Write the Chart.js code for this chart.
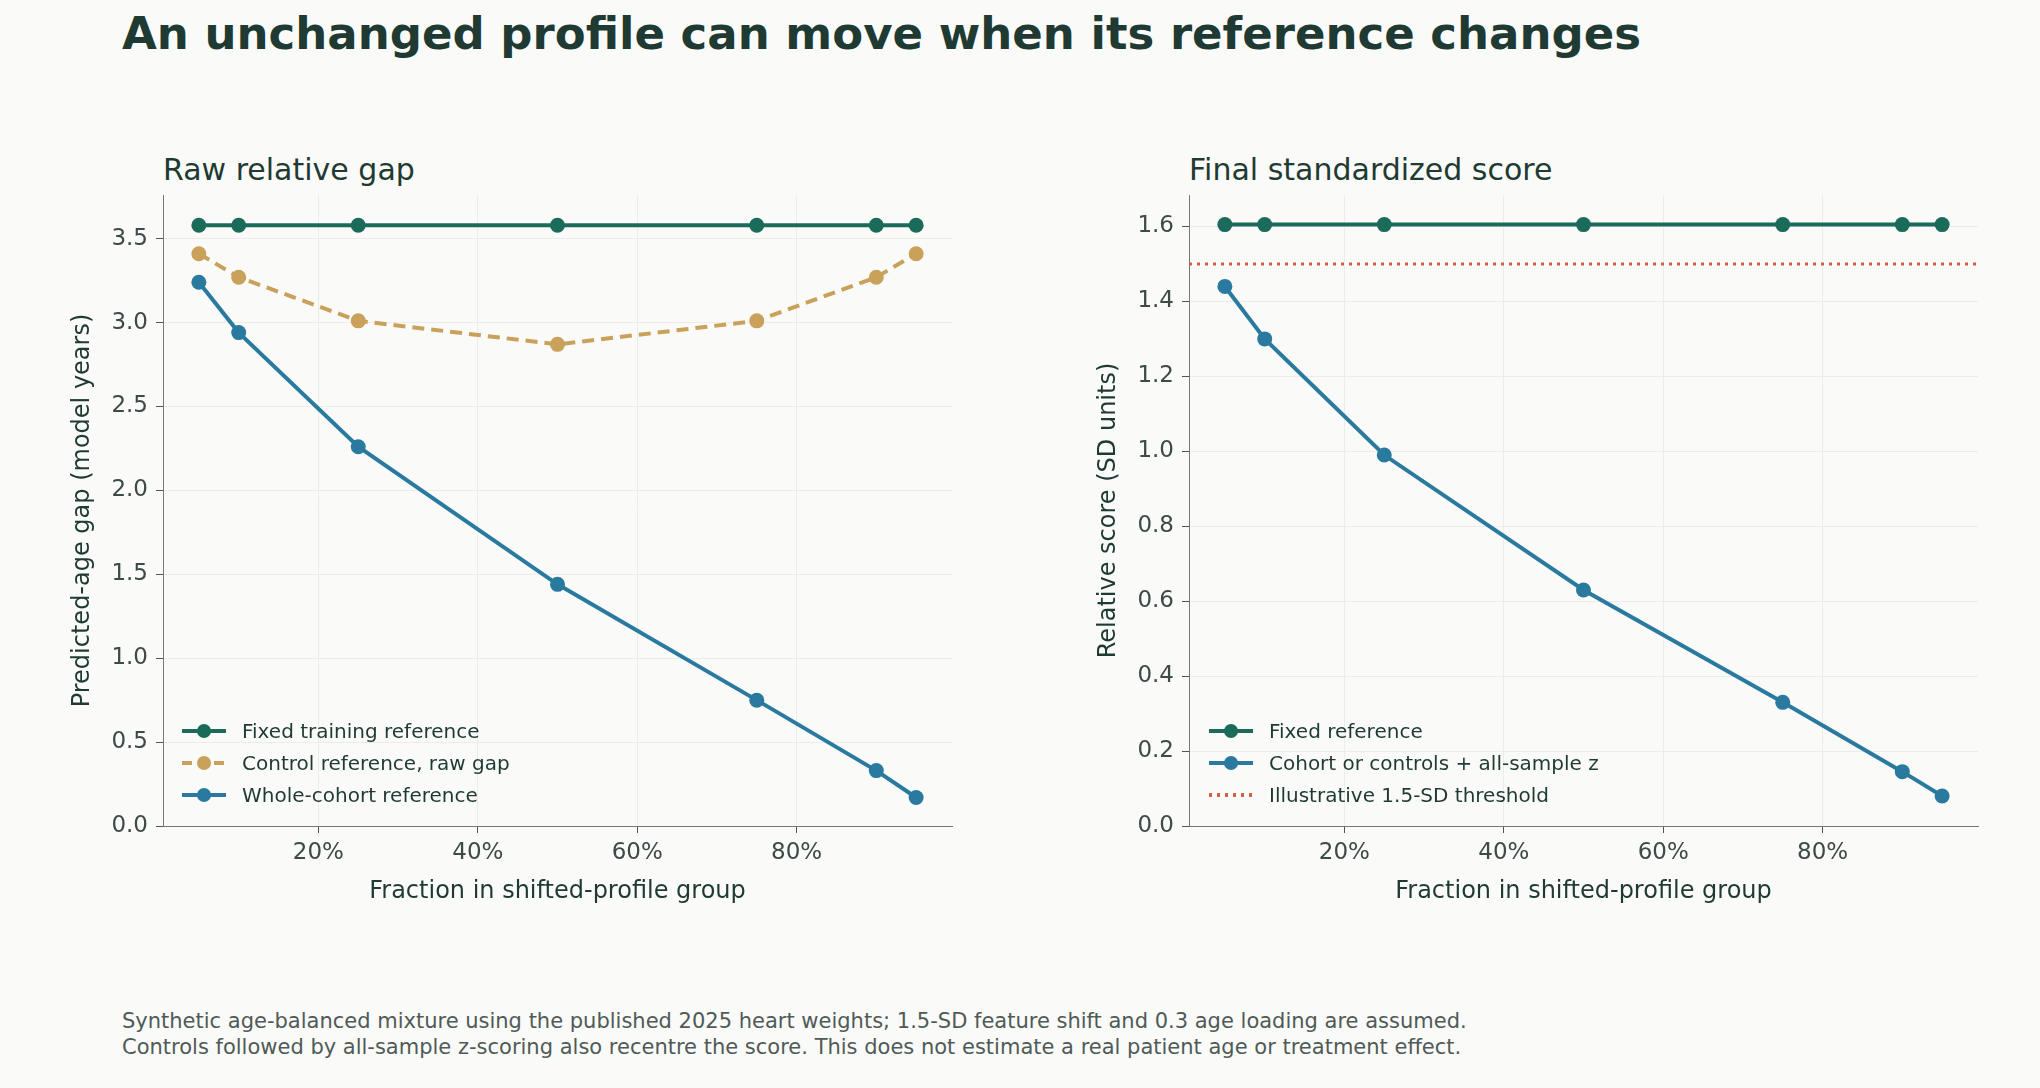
<!DOCTYPE html>
<html><head><meta charset="utf-8">
<script src="https://cdn.jsdelivr.net/npm/chart.js@4"></script>
<style>
body{margin:0;background:#fafaf8;font-family:"DejaVu Sans",sans-serif;width:2040px;height:1088px;position:relative;overflow:hidden;color:#1f3a33}
.box{position:absolute;top:150px;width:980px;height:780px}
.t{position:absolute;white-space:nowrap}
.leg{position:absolute;font-size:20px;color:#1f3a33}
.leg div{height:32px;display:flex;align-items:center}
.leg svg{margin-right:14px}
</style></head><body>
<div class="t" style="left:122px;top:7px;font-size:45px;font-weight:bold;color:#1f3a33">An unchanged profile can move when its reference changes</div>
<div class="t" style="left:163px;top:152px;font-size:30px">Raw relative gap</div>
<div class="t" style="left:1189px;top:152px;font-size:30px">Final standardized score</div>
<div class="box" style="left:0"><canvas id="c1"></canvas></div>
<div class="box" style="left:1026px"><canvas id="c2"></canvas></div>
<div class="leg" id="l1" style="left:180px;top:715px"></div>
<div class="leg" id="l2" style="left:1207px;top:715px"></div>
<div class="t" style="left:122px;top:1008px;font-size:21px;color:#4f5a57;line-height:26px">Synthetic age-balanced mixture using the published 2025 heart weights; 1.5-SD feature shift and 0.3 age loading are assumed.<br>Controls followed by all-sample z-scoring also recentre the score. This does not estimate a real patient age or treatment effect.</div>
<script>
var fractions = [0.05, 0.10, 0.25, 0.50, 0.75, 0.90, 0.95];
var fixedGap = [3.58, 3.58, 3.58, 3.58, 3.58, 3.58, 3.58];
var controlGap = [3.41, 3.27, 3.01, 2.87, 3.01, 3.27, 3.41];
var cohortGap = [3.24, 2.94, 2.26, 1.44, 0.75, 0.33, 0.17];
var fixedScore = [1.605, 1.605, 1.605, 1.605, 1.605, 1.605, 1.605];
var cohortScore = [1.44, 1.30, 0.99, 0.63, 0.33, 0.145, 0.08];
var threshold = 1.5;
var xTicks = [0.2, 0.4, 0.6, 0.8];
var yTicks1 = [0, 0.5, 1, 1.5, 2, 2.5, 3, 3.5];
var yTicks2 = [0, 0.2, 0.4, 0.6, 0.8, 1.0, 1.2, 1.4, 1.6];

var GREEN = "#1b6b5a", GOLD = "#c9a15a", BLUE = "#2a7aa0", RED = "#d0604a";

function pts(ys){ return fractions.map(function(x,i){ return {x:x, y:ys[i]}; }); }
function line(label, ys, color, dash){
  return {label:label, data:pts(ys), borderColor:color, backgroundColor:color, borderWidth:4,
    borderDash:dash||[], pointRadius:7.5, pointHoverRadius:7.5, pointBorderWidth:0, tension:0};
}
function makeChart(id, datasets, yMax, yTicks, yTitle){
  new Chart(document.getElementById(id), {
    type:"line",
    data:{datasets:datasets},
    options:{
      responsive:true, maintainAspectRatio:false, animation:false,
      layout:{padding:{top:45, right:28, left:68, bottom:24}},
      plugins:{legend:{display:false}, tooltip:{enabled:false}},
      scales:{
        x:{type:"linear", min:0.005, max:0.995,
          afterBuildTicks:function(s){ s.ticks = xTicks.map(function(v){return {value:v};}); },
          afterFit:function(s){ s.height = 80; },
          ticks:{color:"#3d4a47", font:{size:23, family:"DejaVu Sans"}, padding:6,
            callback:function(v){ return Math.round(v*100)+"%"; }},
          grid:{color:"#ececea", tickColor:"#555", tickLength:7},
          border:{color:"#777"},
          title:{display:true, text:"Fraction in shifted-profile group", color:"#1f3a33", font:{size:24, family:"DejaVu Sans"}, padding:{top:4, bottom:0}}},
        y:{min:0, max:yMax,
          afterBuildTicks:function(s){ s.ticks = yTicks.map(function(v){return {value:v};}); },
          afterFit:function(s){ s.width = 95; },
          ticks:{color:"#3d4a47", font:{size:23, family:"DejaVu Sans"}, padding:8,
            callback:function(v){ return v.toFixed(1); }},
          grid:{color:"#ececea", tickColor:"#555", tickLength:7},
          border:{color:"#777"},
          title:{display:true, text:yTitle, color:"#1f3a33", font:{size:24, family:"DejaVu Sans"}, padding:0}}
      }
    }
  });
}
makeChart("c1", [
  line("Fixed training reference", fixedGap, GREEN),
  line("Control reference, raw gap", controlGap, GOLD, [12,7]),
  line("Whole-cohort reference", cohortGap, BLUE)
], 3.76, yTicks1, "Predicted-age gap (model years)");
var thr = {label:"Illustrative 1.5-SD threshold", data:[{x:0.005,y:threshold},{x:0.995,y:threshold}],
  borderColor:RED, borderWidth:3, borderDash:[3,5], pointRadius:0};
makeChart("c2", [
  line("Fixed reference", fixedScore, GREEN),
  line("Cohort or controls + all-sample z", cohortScore, BLUE),
  thr
], 1.684, yTicks2, "Relative score (SD units)");

function legend(id, items){
  var h = "";
  items.forEach(function(it){
    var s = '<svg width="48" height="20">';
    s += '<line x1="2" y1="10" x2="46" y2="10" stroke="'+it[1]+'" stroke-width="4"'+(it[2]?' stroke-dasharray="'+it[2]+'"':'')+'/>';
    if(it[3]) s += '<circle cx="24" cy="10" r="7" fill="'+it[1]+'"/>';
    s += '</svg>';
    h += '<div>'+s+it[0]+'</div>';
  });
  document.getElementById(id).innerHTML = h;
}
legend("l1", [["Fixed training reference",GREEN,"",1],["Control reference, raw gap",GOLD,"10 6",1],["Whole-cohort reference",BLUE,"",1]]);
legend("l2", [["Fixed reference",GREEN,"",1],["Cohort or controls + all-sample z",BLUE,"",1],["Illustrative 1.5-SD threshold",RED,"3 5",0]]);
</script>
</body></html>
